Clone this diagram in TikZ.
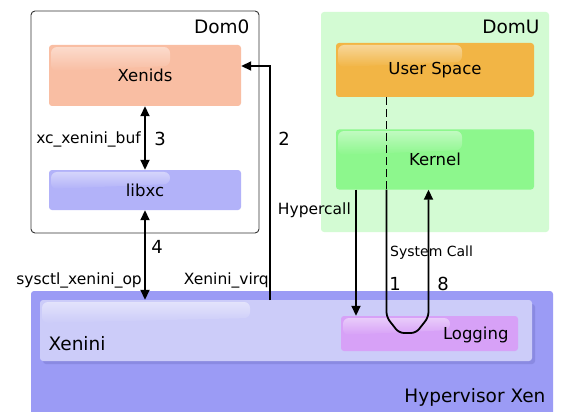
\documentclass[tikz,border=0pt]{standalone}
\usepackage{fontspec}
\setmainfont{DejaVu Sans}
\usetikzlibrary{arrows.meta,fadings}
\definecolor{xenidsc}{HTML}{F9BEA3}
\definecolor{libxcc}{HTML}{B2B2F9}
\definecolor{domuc}{HTML}{D3FBD3}
\definecolor{userc}{HTML}{F2B545}
\definecolor{kernelc}{HTML}{8DF78D}
\definecolor{hypc}{HTML}{9B9BF5}
\definecolor{xeninic}{HTML}{CCCCF9}
\definecolor{shadowc}{HTML}{7F7FD6}
\definecolor{loggingc}{HTML}{D7A1F7}
\newcommand\mygloss[4]{\fill[white,opacity=0.45,path fading=south,rounded corners=6pt] (#1,#2) -- (#3,#2) -- (#3,#4) -- (#1,#4+5) -- cycle;}
\begin{document}
\begin{tikzpicture}[x=1pt,y=-1pt,
  box/.style={rectangle, rounded corners=3pt, inner sep=0pt, draw=none},
  big/.style={font=\fontsize{18.5}{22}\selectfont},
  mid/.style={font=\fontsize{16.5}{20}\selectfont},
  lab/.style={font=\fontsize{15.5}{18}\selectfont, inner sep=1pt},
  num/.style={font=\fontsize{18}{21}\selectfont, inner sep=1pt},
  small/.style={font=\fontsize{14}{17}\selectfont, inner sep=1pt},
  tip/.style={line width=1.8pt, -{Triangle[length=10pt,width=9pt]}},
  dtip/.style={line width=1.8pt, {Triangle[length=10pt,width=9pt]}-{Triangle[length=10pt,width=9pt]}},
  ]
\useasboundingbox (0,0) rectangle (571,412);
% Dom0
\node[box, draw=black!80, line width=0.9pt, fill=white, rounded corners=4pt, minimum width=228pt, minimum height=222pt] (dom0) at (145,122) {};
\node[big, anchor=east] (dom0t) at (253,27) {Dom0};
\node[box, fill=xenidsc, minimum width=192pt, minimum height=61pt] (xenids) at (145,75.5) {};
\mygloss{51}{47}{170}{66}
\node[mid] (xenidst) at (145,75) {Xenids};
\node[box, fill=libxcc, minimum width=192pt, minimum height=40pt] (libxc) at (145,190) {};
\mygloss{51}{172}{170}{184}
\node[mid] (libxct) at (145,190) {libxc};
% DomU
\node[box, fill=domuc, minimum width=228pt, minimum height=220pt] (domu) at (435,122) {};
\node[big, anchor=east] (domut) at (543,27) {DomU};
\node[box, fill=userc, minimum width=198pt, minimum height=54pt] (user) at (435,70) {};
\mygloss{338}{45}{462}{62}
\node[mid] (usert) at (435,70) {User Space};
\node[box, fill=kernelc, minimum width=198pt, minimum height=60pt] (kernel) at (435,159.5) {};
\mygloss{338}{131}{462}{150}
\node[mid] (kernelt) at (435,159) {Kernel};
% Hypervisor
\node[box, fill=hypc, minimum width=522pt, minimum height=124pt] (hyp) at (292,353) {};
\fill[shadowc, opacity=0.6, rounded corners=3pt] (43,304) rectangle (535,364);
\node[box, fill=xeninic, minimum width=492pt, minimum height=61pt] (xenini) at (286,330.5) {};
\mygloss{42}{302}{250}{318}
\node[big, anchor=west] (xeninit) at (45,344) {Xenini};
\node[box, fill=loggingc, minimum width=177pt, minimum height=35pt] (logging) at (429.5,333.5) {};
\mygloss{343}{318}{450}{330}
\node[mid, anchor=east] (loggingt) at (512,335) {Logging};
\node[big, anchor=east] (hypt) at (549,397) {Hypervisor Xen};
% arrow 3
\draw[dtip] (xenids.south) -- (libxc.north);
\node[lab, anchor=east] (l3) at (142,139) {xc\_xenini\_buf};
\node[num] (n3) at (160,139) {3};
% arrow 4
\draw[dtip] (libxc.south) -- (libxc.south |- xenini.north);
\node[num] (n4) at (157,247) {4};
\node[lab, anchor=east] (l4) at (143,280) {sysctl\_xenini\_op};
% arrow 2
\coordinate (c2a) at (270,300);
\coordinate (c2b) at (270,66);
\draw[tip] (c2a) -- (c2b) -- (c2b -| xenids.east);
\node[num] (n2) at (284,139) {2};
\node[lab, anchor=east] (l2) at (270,280) {Xenini\_virq};
% hypercall
\coordinate (hc) at (356,0);
\draw[tip] (kernel.south -| hc) -- (logging.north -| hc);
\node[lab, anchor=east] (lhc) at (352,210) {Hypercall};
% system call
\coordinate (sa) at (386.5,0);
\coordinate (sb) at (428.5,0);
\draw[line width=1.8pt, dash pattern=on 8pt off 4pt] (user.south -| sa) -- (kernel.south -| sa);
\draw[tip, rounded corners=5pt] (kernel.south -| sa) -- (386.5,317) -- (399,333) -- (416,333) -- (428.5,317) -- (kernel.south -| sb);
\node[small, anchor=west] (lsc) at (389,253) {System Call};
\node[num] (n1) at (395,284) {1};
\node[num] (n8) at (443,284) {8};
\end{tikzpicture}
\end{document}
